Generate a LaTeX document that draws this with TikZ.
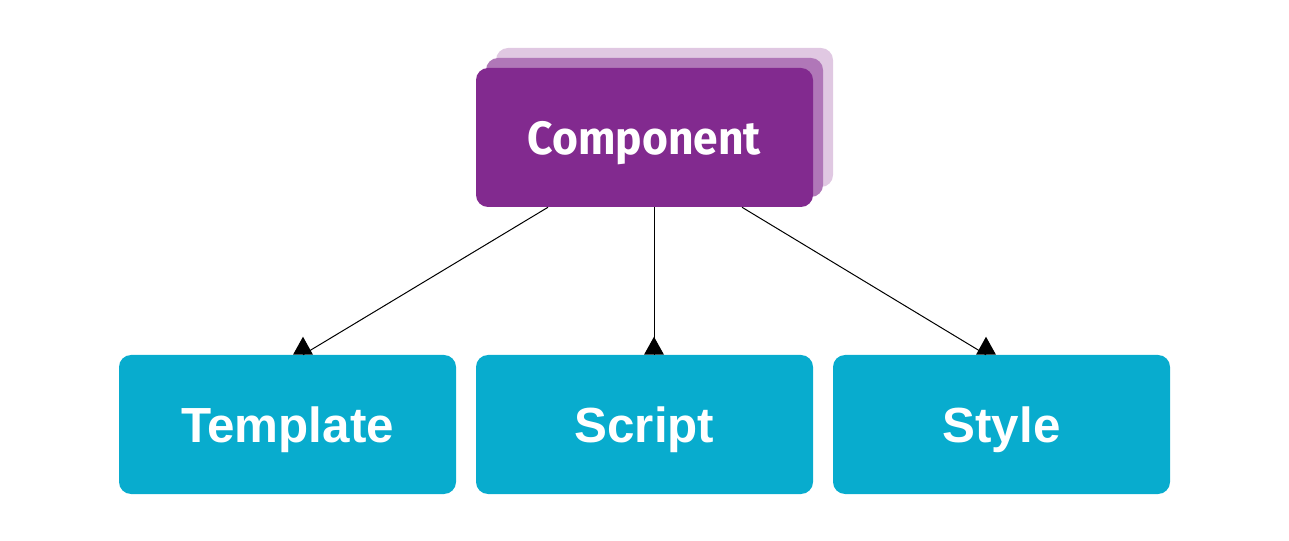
\documentclass[tikz,border=0pt]{standalone}
\usepackage{fontspec}
\setmainfont{Liberation Sans}
\newfontfamily\compfont{Fira Sans}
\definecolor{compC}{HTML}{822A8F}
\definecolor{compB}{HTML}{B077B8}
\definecolor{compA}{HTML}{E0C8E2}
\definecolor{partC}{HTML}{08ACCE}
\begin{document}
\begin{tikzpicture}[x=0.75pt,y=-0.75pt,
  card/.style={rectangle,rounded corners=9pt,minimum width=252.75pt,minimum height=104.25pt,inner sep=0pt,text=white,text depth=0pt},
  part/.style={card,fill=partC,font=\bfseries\fontsize{37}{40}\selectfont},
  link/.style={draw=black,line width=0.75pt},
  tipmark/.style={fill=black}]
\useasboundingbox (0,0) rectangle (1289,541);
\node[card,fill=compA] (l3) at (664.5,117.5) {};
\node[card,fill=compB] (l2) at (654.5,127.5) {};
\node[card,fill=compC,font=\compfont\bfseries\fontsize{35}{38}\selectfont] (comp) at (644.5,137.5) {\scalebox{0.95}[1]{Component}};
\node[part] (tpl) at (287.5,424.5) {Template};
\node[part] (scr) at (644.5,424.5) {Script};
\node[part] (sty) at (1001.5,424.5) {Style};
\coordinate (e1) at ([xshift=11.625pt]tpl.north);
\coordinate (e2) at ([xshift=7.125pt]scr.north);
\coordinate (e3) at ([xshift=-11.625pt]sty.north);
\draw[link] ([xshift=-72.375pt]comp.south) -- (e1);
\draw[link] ([xshift=7.125pt]comp.south) -- (e2);
\draw[link] ([xshift=73.125pt]comp.south) -- (e3);
\foreach \e in {e1,e2,e3}
  \fill[tipmark] (\e) ++(-10,0) -- ++(20,0) -- ++(-10,-18) -- cycle;
\end{tikzpicture}
\end{document}
